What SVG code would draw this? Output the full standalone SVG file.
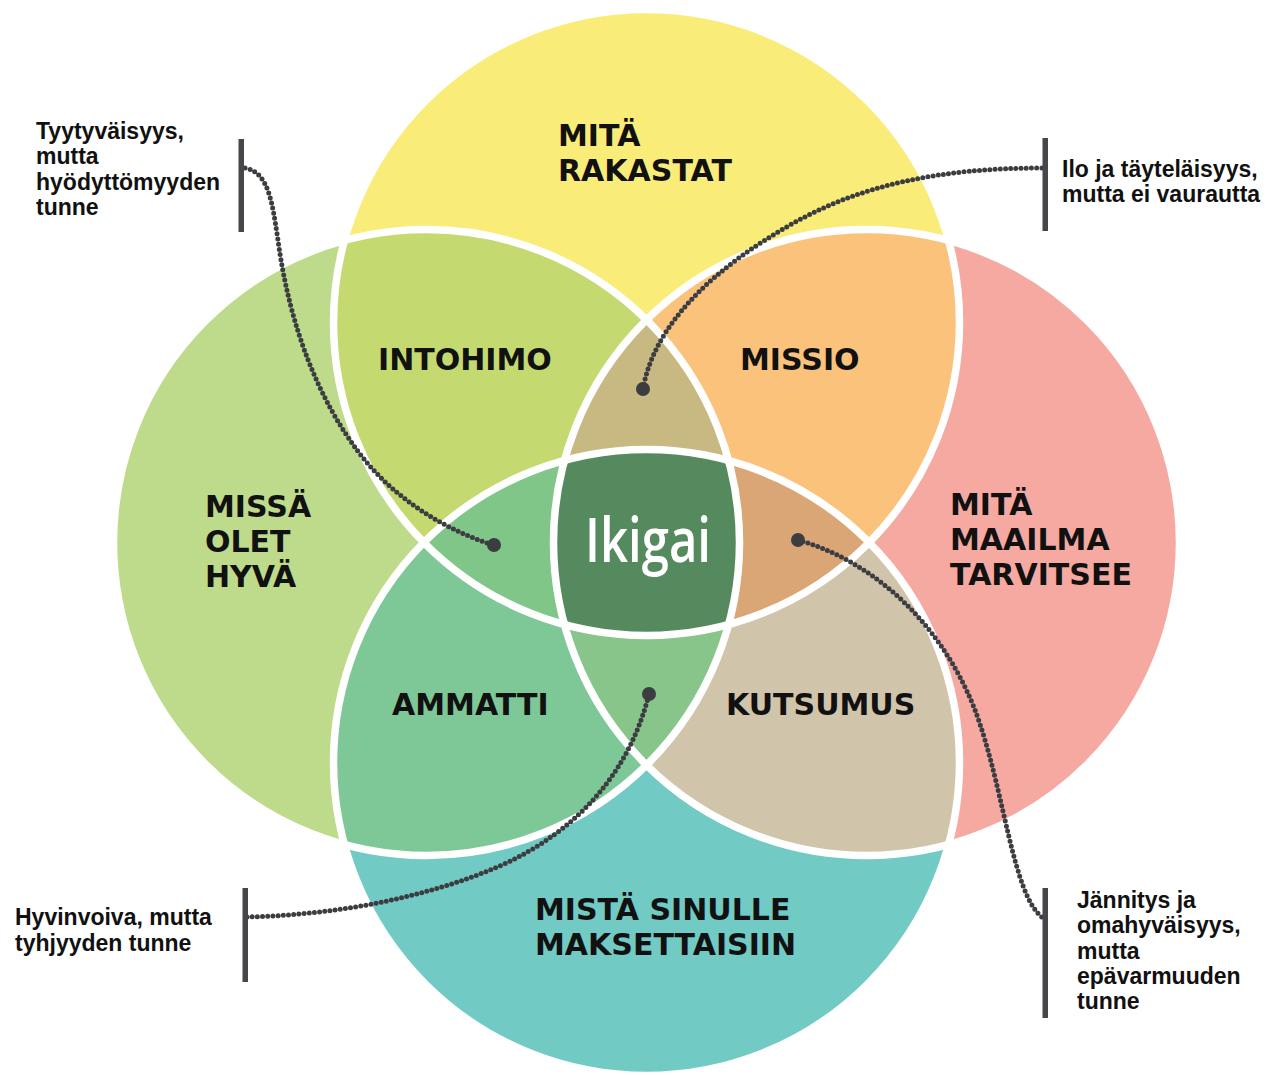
<svg xmlns="http://www.w3.org/2000/svg" width="1274" height="1075" viewBox="0 0 1274 1075">
<style>
.lbl{font-family:"DejaVu Sans",Verdana,sans-serif;font-weight:bold;font-size:30px;fill:#111;}
.cap{font-family:"Liberation Sans",Arial,sans-serif;font-weight:bold;font-size:23px;fill:#111;}
.ring{fill:none;stroke:#fff;stroke-width:7.5;}
.dots{fill:none;stroke:#3b3d40;stroke-width:5;stroke-dasharray:0 5.2;stroke-linecap:round;}
.end{fill:#3b3d40;}
.bar{fill:#45474a;}
</style>
<defs>
<clipPath id="cT"><circle cx="646.5" cy="322.5" r="313"/></clipPath>
<clipPath id="cL"><circle cx="426.5" cy="542.5" r="313"/></clipPath>
<clipPath id="cR"><circle cx="866.5" cy="542.5" r="313"/></clipPath>
<clipPath id="cB"><circle cx="646.5" cy="762.5" r="313"/></clipPath>
</defs>
<rect width="1274" height="1075" fill="#fff"/>
<g id="fills">
<circle cx="646.5" cy="322.5" r="313" fill="#FAEC78"/>
<circle cx="426.5" cy="542.5" r="313" fill="#BEDA8B"/>
<circle cx="866.5" cy="542.5" r="313" fill="#F5A9A1"/>
<circle cx="646.5" cy="762.5" r="313" fill="#72CAC5"/>
<g clip-path="url(#cT)"><circle cx="426.5" cy="542.5" r="313" fill="#C4D96F"/><circle cx="866.5" cy="542.5" r="313" fill="#FBC27C"/></g>
<g clip-path="url(#cB)"><circle cx="426.5" cy="542.5" r="313" fill="#7DC896"/><circle cx="866.5" cy="542.5" r="313" fill="#D0C4AB"/></g>
<g clip-path="url(#cT)"><g clip-path="url(#cL)"><circle cx="866.5" cy="542.5" r="313" fill="#C7B981"/></g></g>
<g clip-path="url(#cT)"><g clip-path="url(#cR)"><circle cx="646.5" cy="762.5" r="313" fill="#DBA676"/></g></g>
<g clip-path="url(#cT)"><g clip-path="url(#cL)"><circle cx="646.5" cy="762.5" r="313" fill="#80C688"/></g></g>
<g clip-path="url(#cB)"><g clip-path="url(#cL)"><circle cx="866.5" cy="542.5" r="313" fill="#88C58A"/></g></g>
<g clip-path="url(#cT)"><g clip-path="url(#cB)"><g clip-path="url(#cL)"><circle cx="866.5" cy="542.5" r="313" fill="#558A5F"/></g></g></g>
</g>
<g id="outlines">
<circle class="ring" cx="646.5" cy="322.5" r="313"/>
<circle class="ring" cx="426.5" cy="542.5" r="313"/>
<circle class="ring" cx="866.5" cy="542.5" r="313"/>
<circle class="ring" cx="646.5" cy="762.5" r="313"/>
</g>
<g id="node-rakastat"><text class="lbl" x="558" y="146">MITÄ</text><text class="lbl" x="558" y="181">RAKASTAT</text></g>
<g id="node-hyva"><text class="lbl" x="205" y="517">MISSÄ</text><text class="lbl" x="205" y="552">OLET</text><text class="lbl" x="205" y="587">HYVÄ</text></g>
<g id="node-maailma"><text class="lbl" x="950" y="515">MITÄ</text><text class="lbl" x="950" y="550">MAAILMA</text><text class="lbl" x="950" y="585">TARVITSEE</text></g>
<g id="node-maksettaisiin"><text class="lbl" x="535" y="920">MISTÄ SINULLE</text><text class="lbl" x="535" y="955">MAKSETTAISIIN</text></g>
<g id="node-intohimo"><text class="lbl" x="378" y="370">INTOHIMO</text></g>
<g id="node-missio"><text class="lbl" x="740" y="370">MISSIO</text></g>
<g id="node-ammatti"><text class="lbl" x="392" y="715">AMMATTI</text></g>
<g id="node-kutsumus"><text class="lbl" x="726" y="715">KUTSUMUS</text></g>
<g id="node-ikigai"><text x="648" y="562" text-anchor="middle" textLength="126" lengthAdjust="spacingAndGlyphs" style="font-family:'Open Sans','Noto Sans',sans-serif;font-weight:600;font-size:62px;fill:#fff;">Ikigai</text></g>
<g id="connectors">
<path class="dots" d="M245,168 C268,172 272,200 278,240 C290,330 320,400 357,450 C390,495 440,528 493,545"/>
<circle class="end" cx="494" cy="545" r="7"/>
<path class="dots" d="M1042,168 C940,168 860,185 790,225 C720,265 655,320 643,389"/>
<circle class="end" cx="643" cy="389" r="7"/>
<path class="dots" d="M247,917 C330,915 420,900 500,866 C580,830 630,770 649,694"/>
<circle class="end" cx="649" cy="694" r="7"/>
<path class="dots" d="M798,540 C870,560 940,620 975,710 C1005,790 1012,895 1043,918"/>
<circle class="end" cx="798" cy="540" r="7"/>
</g>
<g id="callout-tl"><rect class="bar" x="238.5" y="139" width="5.5" height="93"/>
<text class="cap" x="36" y="139">Tyytyväisyys,</text><text class="cap" x="36" y="164">mutta</text><text class="cap" x="36" y="190">hyödyttömyyden</text><text class="cap" x="36" y="215">tunne</text></g>
<g id="callout-tr"><rect class="bar" x="1042.5" y="138" width="5.5" height="93"/>
<text class="cap" x="1062" y="177">Ilo ja täyteläisyys,</text><text class="cap" x="1062" y="202">mutta ei vaurautta</text></g>
<g id="callout-bl"><rect class="bar" x="242.5" y="888" width="5.5" height="94"/>
<text class="cap" x="15" y="925">Hyvinvoiva, mutta</text><text class="cap" x="15" y="951">tyhjyyden tunne</text></g>
<g id="callout-br"><rect class="bar" x="1042.5" y="888" width="5.5" height="130"/>
<text class="cap" x="1077" y="908">Jännitys ja</text><text class="cap" x="1077" y="933">omahyväisyys,</text><text class="cap" x="1077" y="959">mutta</text><text class="cap" x="1077" y="984">epävarmuuden</text><text class="cap" x="1077" y="1009">tunne</text></g>
</svg>
